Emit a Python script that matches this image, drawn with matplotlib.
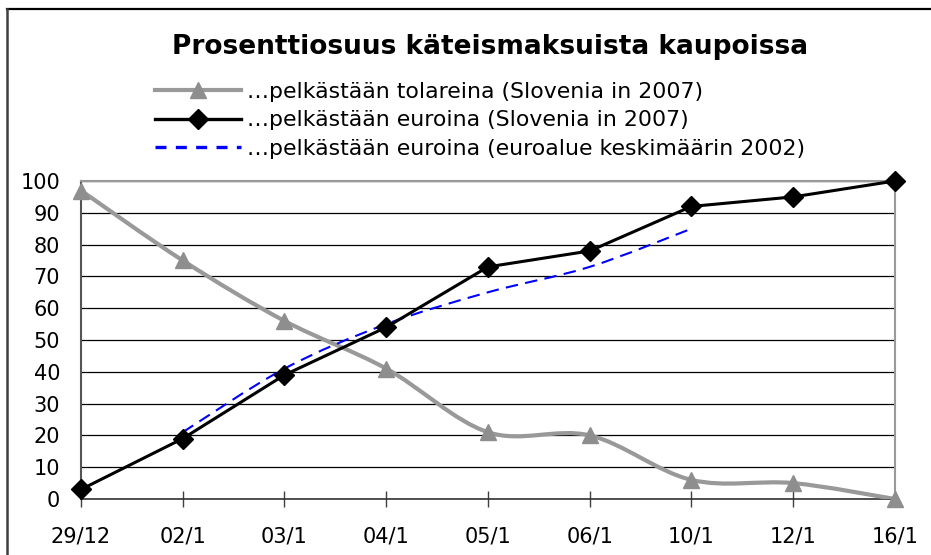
import matplotlib
matplotlib.use("Agg")
import numpy as np
import matplotlib.pyplot as plt
from matplotlib.path import Path
from matplotlib.patches import PathPatch
from matplotlib.lines import Line2D

plt.rcParams['font.family'] = ['DejaVu Sans']

# data
days = ["29/12", "02/1", "03/1", "04/1", "05/1", "06/1", "10/1", "12/1", "16/1"]
tolar_only = [97, 75, 56, 41, 21, 20, 6, 5, 0]
euro_only = [3, 19, 39, 54, 73, 78, 92, 95, 100]
euro_area_2002 = [None, 21, 41, 55, 65, 73, 85, None, None]

title = "Prosenttiosuus käteismaksuista kaupoissa"
labels = ["\u2026pelkästään tolareina (Slovenia in 2007)",
          "\u2026pelkästään euroina (Slovenia in 2007)",
          "\u2026pelkästään euroina (euroalue keskimäärin 2002)"]


def smooth_path(xs, ys):
    # Catmull-Rom style bezier through the points (like Excel "smoothed line")
    pts = np.column_stack([xs, ys]).astype(float)
    verts = [pts[0]]
    codes = [Path.MOVETO]
    n = len(pts)
    for i in range(n - 1):
        p0 = pts[max(i - 1, 0)]
        p1 = pts[i]
        p2 = pts[i + 1]
        p3 = pts[min(i + 2, n - 1)]
        c1 = p1 + (p2 - p0) / 6.0
        c2 = p2 - (p3 - p1) / 6.0
        verts += [c1, c2, p2]
        codes += [Path.CURVE4] * 3
    return Path(verts, codes)


x = np.arange(len(days))

fig = plt.figure(figsize=(9.31, 5.55), dpi=100)
ax = fig.add_axes([0.087, 0.1009, 0.8743, 0.573])

gray = "#999999"
# tolar line (smoothed) + triangle markers
ax.add_patch(PathPatch(smooth_path(x, tolar_only), facecolor="none",
                       edgecolor=gray, lw=3.0, zorder=3, capstyle="round"))
ax.plot(x, tolar_only, ls="none", marker="^", ms=12, color="#8e8e8e",
        mec="#8e8e8e", zorder=4, clip_on=False)

# euro area 2002 (dashed, smoothed)
ea = [(xi, v) for xi, v in zip(x, euro_area_2002) if v is not None]
ex, ey = zip(*ea)
ax.add_patch(PathPatch(smooth_path(ex, ey), facecolor="none", edgecolor="#0000ff",
                       lw=1.5, ls=(0, (6, 3.5)), zorder=4))

# euro line
ax.plot(x, euro_only, color="black", lw=2.2, marker="D", ms=10,
        zorder=5, clip_on=False)

ax.set_xlim(0, len(days) - 1)
ax.set_ylim(0, 100)
ax.set_xticks(x)
ax.set_xticklabels(days)
ax.set_yticks(np.arange(0, 101, 10))
ax.tick_params(axis="x", direction="inout", length=11, width=1, color="#404040",
               labelsize=15, pad=14)
ax.tick_params(axis="y", length=0, labelsize=15, pad=15)
ax.yaxis.grid(True, color="black", lw=0.9)
ax.set_axisbelow(True)

for side in ["top", "right"]:
    ax.spines[side].set_color("#999999")
    ax.spines[side].set_linewidth(1.5)
ax.spines["left"].set_color("#555555")
ax.spines["left"].set_linewidth(1.5)
ax.spines["bottom"].set_color("#333333")
ax.spines["bottom"].set_linewidth(1.2)

fig.text(0.526, 0.915, title, ha="center", va="center", fontsize=19,
         fontweight="bold")

handles = [
    Line2D([], [], color=gray, lw=3.0, marker="^", ms=12, mfc="#8e8e8e", mec="#8e8e8e"),
    Line2D([], [], color="black", lw=2.4, marker="D", ms=10),
    Line2D([], [], color="#0000ff", lw=2.4, ls=(0, (3.3, 2.8))),
]
fig.legend(handles, labels, loc="upper left", bbox_to_anchor=(0.1665, 0.853),
           frameon=False, fontsize=15.8, handlelength=3.9, handletextpad=0.3,
           labelspacing=0.40, borderpad=0, borderaxespad=0, markerscale=1.0)

# outer chart border (only top and left visible in the reference)
fig.add_artist(Line2D([0.0075, 1.0], [0.983, 0.983], color="black", lw=1.6,
                      transform=fig.transFigure))
fig.add_artist(Line2D([0.0075, 0.0075], [0.0, 0.983], color="#404040", lw=1.8,
                      transform=fig.transFigure))

fig.savefig("out.png", dpi=100)
